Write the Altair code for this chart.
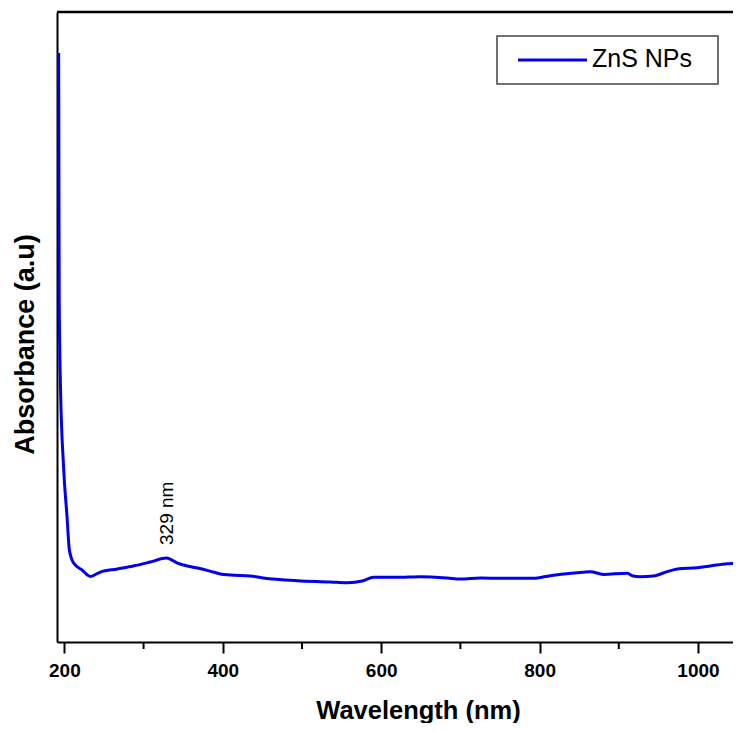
import altair as alt
import pandas as pd

wavelength = [192.8, 193.2, 193.5, 195.0, 199.0, 203.4, 206.3, 211.7, 222.3, 232.8,
              245.4, 266.9, 287.0, 308.6, 329.0, 342.7, 355.3, 368.0, 388.0, 397.0,
              409.6, 434.8, 451.0, 494.0, 535.8, 557.0, 577.5, 590.0, 620.0, 649.4,
              683.5, 700.0, 725.0, 754.0, 792.0, 813.6, 855.0, 864.0, 880.5, 910.8,
              918.0, 927.0, 943.6, 961.0, 974.0, 999.0, 1015.5, 1037.0, 1054.7, 1100.0]
absorbance = [2.805, 2.105, 1.629, 1.233, 0.833, 0.595, 0.438, 0.376, 0.343, 0.312,
              0.333, 0.348, 0.362, 0.381, 0.400, 0.376, 0.362, 0.352, 0.333, 0.324,
              0.319, 0.314, 0.305, 0.292, 0.286, 0.282, 0.292, 0.308, 0.308, 0.311,
              0.305, 0.300, 0.305, 0.303, 0.303, 0.316, 0.332, 0.335, 0.322, 0.327,
              0.314, 0.311, 0.314, 0.335, 0.348, 0.354, 0.362, 0.373, 0.375, 0.386]
series_name = ["ZnS NPs"]
peak_label = ["329 nm"]
peak_pos = [329.0]
peak_text_y = [0.462]
major_ticks = [200, 400, 600, 800, 1000]
minor_ticks = [300, 500, 700, 900]

W, H = 676, 630
BLUE = "#0000ee"
FONT = "Liberation Sans"

df = pd.DataFrame({"wavelength": wavelength, "absorbance": absorbance})
df_peak = pd.DataFrame({"wavelength": peak_pos, "absorbance": peak_text_y, "label": peak_label})
df_minor = pd.DataFrame({"tick": minor_ticks})
df_leg = pd.DataFrame({"name": series_name})

xscale = alt.Scale(domain=[190.7, 1044.2], nice=False, zero=False)
yscale = alt.Scale(domain=[0, 3.0], nice=False, zero=False)

line = alt.Chart(df).mark_line(color=BLUE, strokeWidth=3, clip=True,
                               interpolate="monotone").encode(
    x=alt.X("wavelength:Q", scale=xscale,
            axis=alt.Axis(values=major_ticks, format="d", title="Wavelength (nm)", grid=False,
                          domainColor="black", domainWidth=2,
                          tickColor="black", tickWidth=2, tickSize=11,
                          labelFont=FONT, labelFontSize=19, labelFontWeight="bold",
                          labelColor="black", labelPadding=8, labelFlush=False,
                          titleFont=FONT, titleFontSize=25.5, titleFontWeight="bold",
                          titleColor="black", titleX=361, titleY=76,
                          titleBaseline="alphabetic", titleAlign="center")),
    y=alt.Y("absorbance:Q", scale=yscale,
            axis=alt.Axis(title="Absorbance (a.u)", labels=False, ticks=False, grid=False,
                          domainColor="black", domainWidth=2,
                          titleFont=FONT, titleFontSize=27, titleFontWeight="bold",
                          titleColor="black", titleX=-32, titleY=332, titleAngle=270,
                          titleBaseline="middle", titleAlign="center")),
)

minor = alt.Chart(df_minor).mark_rule(color="black", strokeWidth=2).encode(
    x=alt.X("tick:Q", scale=xscale),
    y=alt.value(H), y2=alt.value(H + 7),
)

top_border = alt.Chart(df_leg).mark_rule(color="black", strokeWidth=2.5).encode(
    x=alt.value(0), x2=alt.value(W), y=alt.value(0),
)

peak_text = alt.Chart(df_peak).mark_text(angle=270, align="left", baseline="middle",
                                         font=FONT, fontSize=19, color="black").encode(
    x=alt.X("wavelength:Q", scale=xscale),
    y=alt.Y("absorbance:Q", scale=yscale),
    text="label:N",
)

leg_box = alt.Chart(df_leg).mark_rect(fill="white", stroke="#444444", strokeWidth=1.5).encode(
    x=alt.value(440), x2=alt.value(661), y=alt.value(24), y2=alt.value(72),
)
leg_line = alt.Chart(df_leg).mark_rule(color=BLUE, strokeWidth=3).encode(
    x=alt.value(461), x2=alt.value(530), y=alt.value(48),
)
leg_text = alt.Chart(df_leg).mark_text(align="left", baseline="alphabetic", font=FONT,
                                       fontSize=25, color="black").encode(
    x=alt.value(535), y=alt.value(55), text="name:N",
)

chart = alt.layer(line, minor, top_border, peak_text, leg_box, leg_line, leg_text).properties(
    width=W, height=H,
    autosize=alt.AutoSizeParams(type="none"),
    padding={"left": 49, "top": 4, "right": 0, "bottom": 81},
).configure_view(stroke=None).configure(background="white")

chart.save("out.html", embed_options={"renderer": "svg", "actions": False})
